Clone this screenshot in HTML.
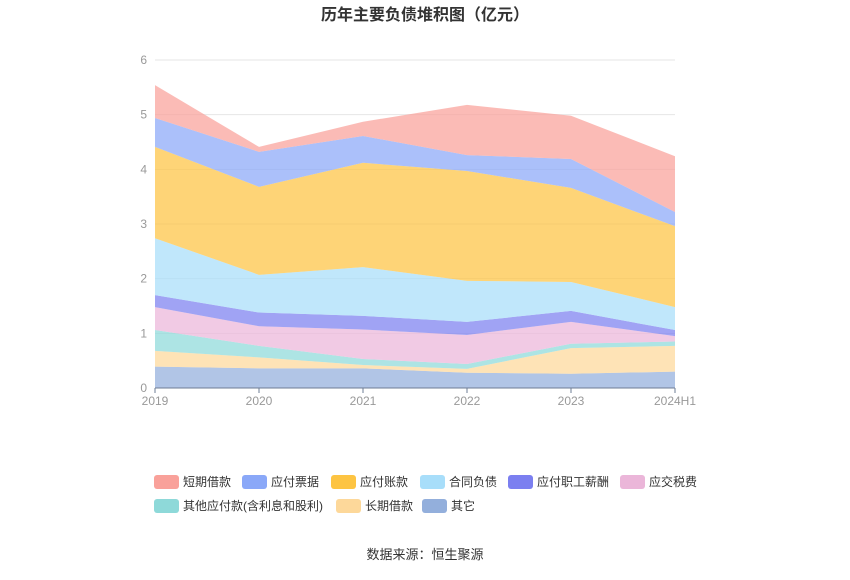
<!DOCTYPE html>
<html><head><meta charset="utf-8"><style>
body{margin:0;background:#fff;font-family:"Liberation Sans","Noto Sans CJK SC",sans-serif;}
</style></head><body>
<svg id="c" width="850" height="575" xmlns="http://www.w3.org/2000/svg" style="font-family:'Liberation Sans','Noto Sans CJK SC',sans-serif">
<text x="425" y="20" text-anchor="middle" font-size="16" font-weight="bold" fill="#333">历年主要负债堆积图（亿元）</text>
<g id="grid"></g><g id="areas"></g><g id="axes"></g><g id="legend"></g>
<text x="425" y="559" text-anchor="middle" font-size="13" fill="#333">数据来源：恒生聚源</text>
</svg>
<script>
const categories=["2019","2020","2021","2022","2023","2024H1"];
const seriesNames=["其它","长期借款","其他应付款(含利息和股利)","应交税费","应付职工薪酬","合同负债","应付账款","应付票据","短期借款"];
const sOther=[0.39,0.36,0.36,0.28,0.26,0.30];
const sLongLoan=[0.29,0.20,0.06,0.07,0.47,0.47];
const sOtherPay=[0.38,0.21,0.11,0.09,0.08,0.08];
const sTax=[0.42,0.36,0.54,0.53,0.40,0.10];
const sStaff=[0.22,0.25,0.25,0.24,0.20,0.11];
const sContract=[1.04,0.69,0.89,0.75,0.53,0.42];
const sAccounts=[1.67,1.61,1.91,2.01,1.72,1.48];
const sNotes=[0.53,0.64,0.49,0.29,0.53,0.26];
const sShort=[0.60,0.09,0.26,0.92,0.79,1.02];
const yTicks=[0,1,2,3,4,5,6];
const series=[sOther,sLongLoan,sOtherPay,sTax,sStaff,sContract,sAccounts,sNotes,sShort];
const colors=["#93afdc","#fdd89a","#8ed9d9","#ebb6d9","#7b7ff0","#a8defa","#fdc442","#8aa8f8","#f9a19a"];
const ns="http://www.w3.org/2000/svg";
const X0=155,X1=675,Y0=388,Y1=60,YMAX=6;
const xs=i=>X0+(X1-X0)*i/(categories.length-1);
const ys=v=>Y0-(Y0-Y1)*v/YMAX;
function mk(t,a,p){const e=document.createElementNS(ns,t);for(const k in a)e.setAttribute(k,a[k]);p.appendChild(e);return e;}
const grid=document.getElementById('grid');
yTicks.forEach(t=>{
 const l=mk('line',{x1:X0,x2:X1,y1:ys(t),y2:ys(t),stroke:'#e6e6e6'},grid);
 
 
 const tx=mk('text',{x:147,y:ys(t)+4,'text-anchor':'end','font-size':12,fill:'#999'},grid);tx.textContent=t;
 
 
});
const areas=document.getElementById('areas');
let base=categories.map(()=>0);
series.forEach((s,k)=>{
 const top=base.map((b,i)=>b+s[i]);
 let d='M'+top.map((v,i)=>xs(i)+','+ys(v)).join('L');
 for(let i=categories.length-1;i>=0;i--)d+='L'+xs(i)+','+ys(base[i]);
 const p=mk('path',{d:d+'Z',fill:colors[k],'fill-opacity':0.72},areas);
 
 
 base=top;
});
const axes=document.getElementById('axes');
mk('line',{x1:X0,x2:X1,y1:Y0,y2:Y0,stroke:'#6e7c94'},axes);
categories.forEach((c,i)=>{
 mk('line',{x1:xs(i),x2:xs(i),y1:Y0,y2:Y0+5,stroke:'#6e7c94'},axes);
 const t=mk('text',{x:xs(i),y:405,'text-anchor':'middle','font-size':12,fill:'#999'},axes);t.textContent=c;
 
 
});
const leg=document.getElementById('legend');
const order=[8,7,6,5,4,3,2,1,0];
const pos=[[154,482],[242,482],[331,482],[420,482],[508,482],[620,482],[154,506],[336,506],[422,506]];
order.forEach((k,j)=>{
 const g=mk('g',{},leg);
 
 
 mk('rect',{x:pos[j][0],y:pos[j][1]-7,width:25,height:14,rx:3,fill:colors[k]},g);
 const t=mk('text',{x:pos[j][0]+29,y:pos[j][1]+4,'font-size':12,fill:'#333'},g);t.textContent=seriesNames[k];
});
</script>
</body></html>
